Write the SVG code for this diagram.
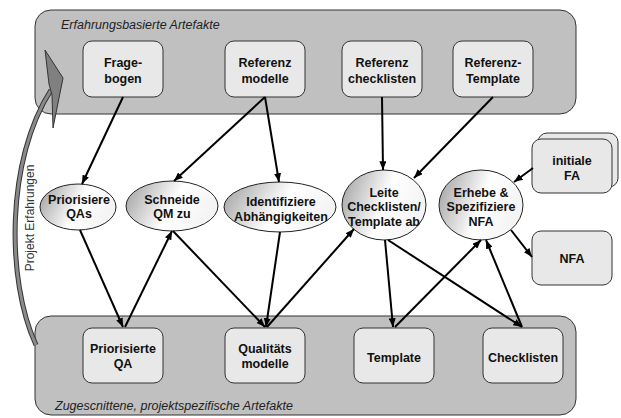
<svg xmlns="http://www.w3.org/2000/svg" width="621" height="418" viewBox="0 0 621 418">
<defs>
<linearGradient id="eg" x1="0" y1="0" x2="1" y2="0.3">
<stop offset="0" stop-color="#9c9c9c"/>
<stop offset="0.6" stop-color="#ffffff"/>
<stop offset="1" stop-color="#f4f4f4"/>
</linearGradient>
<marker id="ah" viewBox="0 0 10 8" refX="10" refY="4" markerWidth="9" markerHeight="7" markerUnits="userSpaceOnUse" orient="auto">
<path d="M0,0 L10,4 L0,8 Z" fill="#000"/>
</marker>
<style>
.panel{fill:#c0c0c0;stroke:#333;stroke-width:1}
.box{fill:#e8e8e8;stroke:#333;stroke-width:1}
.ell{fill:url(#eg);stroke:#222;stroke-width:1}
.t{font-family:"Liberation Sans",Arial,sans-serif;font-size:12.5px;font-weight:bold;fill:#111;text-anchor:middle}
.it{font-family:"Liberation Sans",Arial,sans-serif;font-size:12.5px;font-style:italic;fill:#222}
.c{fill:none;stroke:#000;stroke-width:2;marker-end:url(#ah)}
</style>
</defs>
<g id="panel-top">
<rect class="panel" x="35" y="10" width="541" height="104" rx="16"/>
<text class="it" x="61" y="29">Erfahrungsbasierte Artefakte</text>
</g>
<g id="panel-bottom">
<rect class="panel" x="35" y="316" width="541" height="99" rx="16"/>
<text class="it" x="55" y="410">Zugescnittene, projektspezifische Artefakte</text>
</g>
<g id="projekt-erfahrungen">
<path d="M36,345 C6,280 6,160 51,90" fill="none" stroke="#333" stroke-width="5"/>
<path d="M36,345 C6,280 6,160 51,90" fill="none" stroke="#8a8a8a" stroke-width="3"/>
<polygon points="45,50 63,78 53,128 52,95 49,84" fill="#808080" stroke="#333" stroke-width="1"/>
<text transform="translate(34,218) rotate(-90)" font-family="Liberation Sans, Arial, sans-serif" font-size="12" fill="#333" text-anchor="middle">Projekt Erfahrungen</text>
</g>
<g id="fragebogen"><rect class="box" x="83" y="41" width="80" height="56" rx="9"/><text class="t" x="123" y="66.5">Frage-</text><text class="t" x="123" y="82.5">bogen</text></g>
<g id="referenzmodelle"><rect class="box" x="225" y="41" width="80" height="56" rx="9"/><text class="t" x="265" y="66.5">Referenz</text><text class="t" x="265" y="82.5">modelle</text></g>
<g id="referenzchecklisten"><rect class="box" x="342" y="41" width="80" height="56" rx="9"/><text class="t" x="382" y="66.5">Referenz</text><text class="t" x="382" y="82.5">checklisten</text></g>
<g id="referenztemplate"><rect class="box" x="453" y="41" width="80" height="56" rx="9"/><text class="t" x="493" y="66.5">Referenz-</text><text class="t" x="493" y="82.5">Template</text></g>
<g id="priorisierte-qa"><rect class="box" x="83" y="328" width="80" height="55" rx="9"/><text class="t" x="123" y="353">Priorisierte</text><text class="t" x="123" y="368">QA</text></g>
<g id="qualitaetsmodelle"><rect class="box" x="225" y="328" width="80" height="55" rx="9"/><text class="t" x="265" y="353">Qualitäts</text><text class="t" x="265" y="368">modelle</text></g>
<g id="template"><rect class="box" x="354" y="328" width="80" height="55" rx="9"/><text class="t" x="394" y="361.5">Template</text></g>
<g id="checklisten"><rect class="box" x="483" y="328" width="80" height="55" rx="9"/><text class="t" x="523" y="361.5">Checklisten</text></g>
<g id="initiale-fa"><rect class="box" x="538" y="133" width="80" height="54" rx="9"/><rect class="box" x="532" y="139" width="80" height="54" rx="9"/><text class="t" x="572" y="164.5">initiale</text><text class="t" x="572" y="180">FA</text></g>
<g id="nfa"><rect class="box" x="532" y="231" width="80" height="54" rx="9"/><text class="t" x="572" y="262.5">NFA</text></g>
<g id="priorisiere-qas"><ellipse class="ell" cx="78" cy="207" rx="38" ry="23"/><text class="t" x="79" y="203.5">Priorisiere</text><text class="t" x="79" y="218">QAs</text></g>
<g id="schneide-qm"><ellipse class="ell" cx="172" cy="206" rx="46" ry="25"/><text class="t" x="172" y="203.5">Schneide</text><text class="t" x="172" y="218">QM zu</text></g>
<g id="identifiziere"><ellipse class="ell" cx="280" cy="207" rx="56" ry="25"/><text class="t" x="281" y="206">Identifiziere</text><text class="t" x="281" y="221">Abhängigkeiten</text></g>
<g id="leite"><ellipse class="ell" cx="384" cy="205" rx="42" ry="35"/><text class="t" x="384" y="196.5">Leite</text><text class="t" x="384" y="211">Checklisten/</text><text class="t" x="384" y="225.5">Template ab</text></g>
<g id="erhebe"><ellipse class="ell" cx="481" cy="205" rx="42" ry="35"/><text class="t" x="481" y="196.5">Erhebe &amp;</text><text class="t" x="481" y="211">Spezifiziere</text><text class="t" x="481" y="225.5">NFA</text></g>
<g id="connectors">
<line class="c" x1="123" y1="97" x2="82" y2="184"/>
<line class="c" x1="265" y1="97" x2="174" y2="181"/>
<line class="c" x1="265" y1="97" x2="279" y2="182"/>
<line class="c" x1="382" y1="97" x2="383" y2="170"/>
<line class="c" x1="493" y1="97" x2="414" y2="178"/>
<line class="c" x1="533" y1="168" x2="514" y2="182"/>
<line class="c" x1="511" y1="230" x2="532" y2="257"/>
<line class="c" x1="80" y1="230" x2="123" y2="327"/>
<line class="c" x1="125" y1="327" x2="172" y2="231"/>
<line class="c" x1="173" y1="231" x2="265" y2="327"/>
<line class="c" x1="280" y1="232" x2="266" y2="327"/>
<line class="c" x1="267" y1="327" x2="354" y2="229"/>
<line class="c" x1="385" y1="240" x2="393" y2="327"/>
<line class="c" x1="388" y1="240" x2="522" y2="327"/>
<line class="c" x1="395" y1="327" x2="481" y2="240"/>
<line class="c" x1="522" y1="327" x2="486" y2="240"/>
</g>
</svg>
